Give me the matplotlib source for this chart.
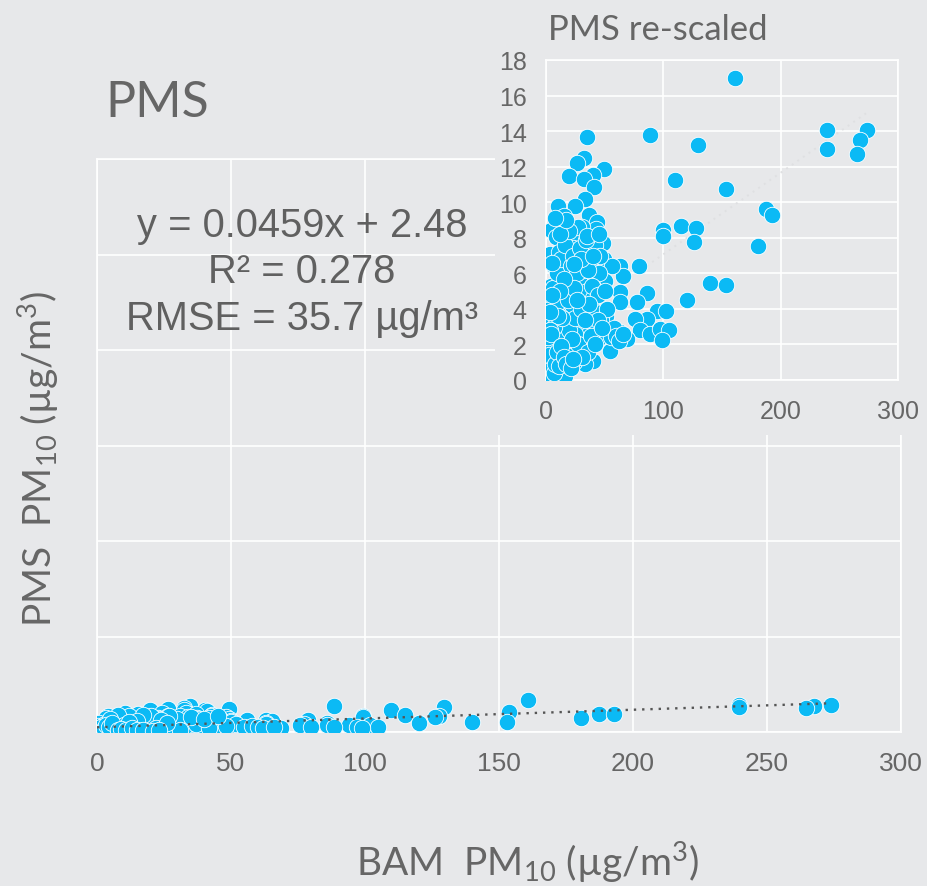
import matplotlib.pyplot as plt
import numpy as np

# BAM PM10 (x) vs PMS PM10 (y), ug/m3
bam = [161, 88.6, 129.7, 239.8, 239.8, 273.9, 267.7, 264.8, 109.8, 153.8,
       187.3, 193, 99.3, 99.3, 115, 127.7, 126, 180.8, 140, 153,
       120.3, 78.9, 85.7, 77.2, 94.2, 101.9, 85.7, 75.8, 80, 88.6,
       97, 105, 99, 68.7, 63, 57.3, 54.5, 63, 65.3, 63,
       63, 49.4, 34.6, 32.4, 26.7, 19.9, 40.3, 32.4, 41.2, 33.2,
       24.4, 10.5, 15.3, 36.9, 43.1, 4.3, 8.5, 19.9, 26.7, 42.6,
       48.3, 3.4, 22.7, 37.5, 49.4, 55.9, 6.8, 14.8, 29.5, 14.2,
       40.3, 50.2, 4.3, 17.6, 29, 40.3, 0.6, 8.5, 17, 27.5,
       40.9, 51.1, 10.5, 18.2, 0.5, 3.4, 14.8, 26.1, 38.9, 44.6,
       34.1, 24.7, 12.5, 2, 2.8, 11.4, 20.4, 29, 40.3, 33.2,
       19.9, 2, 2, 7.7, 13.3, 0, 19,
       5, 8, 10, 12, 15, 18, 20, 22, 25, 28,
       30, 32, 35, 38, 40, 42, 45, 47, 3, 6,
       9, 11, 13, 16, 18, 21, 23, 26, 29, 31,
       34, 36, 39, 44, 46, 50, 52, 55, 58, 60,
       62, 66, 1, 2, 4, 6, 9, 14, 16, 24,
       27, 36, 38, 44, 48, 7, 10, 14, 19, 24,
       33, 37, 42, 30, 27, 20, 12, 17, 24, 35,
       40, 45, 8, 15, 10, 5, 3, 1, 0.5, 22,
       31, 26, 12,
       1, 2, 3, 4, 5, 6, 7, 1.5, 2.5, 3.5,
       4.5, 5.5, 8, 9, 11, 13, 15, 17, 21, 23]
pms = [17.0, 13.8, 13.2, 14.06, 12.98, 14.06, 13.5, 12.7, 11.27, 10.74,
       9.62, 9.28, 8.46, 8.12, 8.68, 8.53, 7.76, 7.56, 5.46, 5.33,
       4.52, 6.39, 4.89, 4.41, 3.9, 3.9, 3.43, 3.43, 2.83, 2.59,
       2.87, 2.83, 2.27, 2.31, 2.72, 2.72, 1.65, 6.43, 5.83, 4.93,
       4.41, 11.87, 13.69, 12.47, 12.19, 11.49, 11.55, 11.31, 10.84, 10.18,
       9.81, 9.77, 9.24, 9.28, 8.87, 8.44, 8.03, 7.97, 8.21, 8.49,
       7.69, 7.09, 7.41, 7.18, 6.81, 6.43, 6.43, 6.62, 6.47, 5.78,
       5.87, 5.59, 5.27, 4.93, 4.93, 5.21, 4.46, 4.46, 4.5, 4.41,
       3.9, 3.58, 3.81, 3.81, 3.24, 3.34, 3.15, 3.06, 3.15, 2.31,
       2.49, 2.59, 2.31, 2.59, 1.93, 1.74, 1.93, 1.74, 1.09, 0.9,
       1.37, 1.03, 0.62, 0.43, 0.28, 0.15, 0.62,
       1.5, 2.2, 1.2, 3.0, 2.5, 3.6, 2.8, 4.2, 3.5, 5.6,
       4.0, 6.2, 5.0, 6.8, 4.6, 7.6, 6.0, 3.4, 4.0, 5.2,
       6.0, 7.2, 6.8, 7.6, 5.4, 6.4, 7.0, 6.0, 7.4, 8.6,
       7.9, 6.2, 5.3, 4.8, 7.0, 5.0, 4.0, 2.4, 2.9, 2.5,
       2.2, 2.6, 0.8, 2.0, 0.3, 1.0, 0.5, 1.0, 0.2, 1.0,
       2.0, 1.6, 2.5, 3.4, 2.9, 3.0, 4.4, 3.5, 4.5, 5.2,
       3.4, 4.3, 2.0, 6.8, 8.6, 8.4, 8.2, 9.0, 6.5, 8.1,
       7.0, 8.2, 9.1, 5.7, 3.6, 6.6, 2.8, 1.5, 0.5, 2.3,
       1.3, 4.5, 5.0,
       0.3, 0.6, 1.1, 0.2, 0.7, 1.8, 0.4, 2.4, 1.4, 3.8,
       2.6, 4.8, 0.9, 1.6, 0.8, 1.9, 1.3, 0.9, 0.7, 1.2]

slope, intercept = 0.0459, 2.48
r2, rmse = 0.278, 35.7
fit_x = [0, 274]

main_ticks = [0, 50, 100, 150, 200, 250, 300]
inset_xticks = [0, 100, 200, 300]
inset_yticks = [0, 2, 4, 6, 8, 10, 12, 14, 16, 18]

bg = "#e7e8ea"
dot = "#0bbaf5"
grey = "#666666"

plt.rcParams["font.family"] = "Liberation Sans"
plt.rcParams["mathtext.fontset"] = "custom"
plt.rcParams["mathtext.rm"] = "Lato"
plt.rcParams["mathtext.it"] = "Lato"

fig = plt.figure(figsize=(9.27, 8.87), dpi=100, facecolor=bg)

def style(ax, size):
    ax.set_facecolor(bg)
    ax.grid(True, color="white", linewidth=1.2)
    ax.set_axisbelow(True)
    for s in ax.spines.values():
        s.set_color("white")
        s.set_linewidth(1.2)
    ax.tick_params(length=0, colors=grey, labelsize=size, pad=14)

# main plot, same scale on both axes
ax = fig.add_axes([0.1046, 0.1736, 0.867, 0.646])
ax.scatter(bam, pms, s=140, color=dot, edgecolors="white", linewidths=0.6, zorder=3)
fx = np.array(fit_x)
ax.plot(fx, slope * fx + intercept, ls=(0, (1, 2.5)), color="#555555", lw=1.7, zorder=4)
ax.set_xlim(0, 300)
ax.set_ylim(0, 300)
ax.set_xticks(main_ticks)
ax.set_yticks(main_ticks)
ax.set_yticklabels([])
style(ax, 19)

# patch hiding the main grid behind the inset
cover = fig.add_axes([495 / 927, 1 - 436 / 887, 1 - 495 / 927, 436 / 887])
cover.set_facecolor(bg)
cover.set_xticks([])
cover.set_yticks([])
for s in cover.spines.values():
    s.set_visible(False)

# inset, re-scaled y
ins = fig.add_axes([546 / 927, 1 - 381 / 887, 352 / 927, 320 / 887])
ins.scatter(bam, pms, s=140, color=dot, edgecolors="white", linewidths=0.6, zorder=3)
ins.plot(fx, slope * fx + intercept, ls=(0, (1, 2.5)), color="#dfe0e2", lw=1.4, zorder=2)
ins.set_xlim(0, 300)
ins.set_ylim(0, 18)
ins.set_xticks(inset_xticks)
ins.set_yticks(inset_yticks)
style(ins, 18)

fig.text(105 / 927, 1 - 117 / 887, "PMS", fontsize=36, color=grey,
         family="Lato", va="baseline")
fig.text(548 / 927, 1 - 40 / 887, "PMS re-scaled", fontsize=25, color=grey,
         family="Lato", va="baseline")

eq_lines = [f"y = {slope}x + {intercept}", f"R² = {r2}", f"RMSE = {rmse} µg/m³"]
for line, yb in zip(eq_lines, [237, 283, 330]):
    fig.text(302 / 927, 1 - yb / 887, line, fontsize=28.7, color="#606060",
             ha="center", va="baseline")

fig.text(527 / 927, 1 - 862 / 887, "BAM  PM$_{10}$ (µg/m$^3$)", fontsize=28,
         color=grey, family="Lato", ha="center", va="center")
fig.text(38 / 927, 1 - 459 / 887, "PMS  PM$_{10}$ (µg/m$^3$)", fontsize=28,
         color=grey, family="Lato", ha="center", va="center", rotation=90)

fig.savefig("out.png", dpi=100, facecolor=bg)
